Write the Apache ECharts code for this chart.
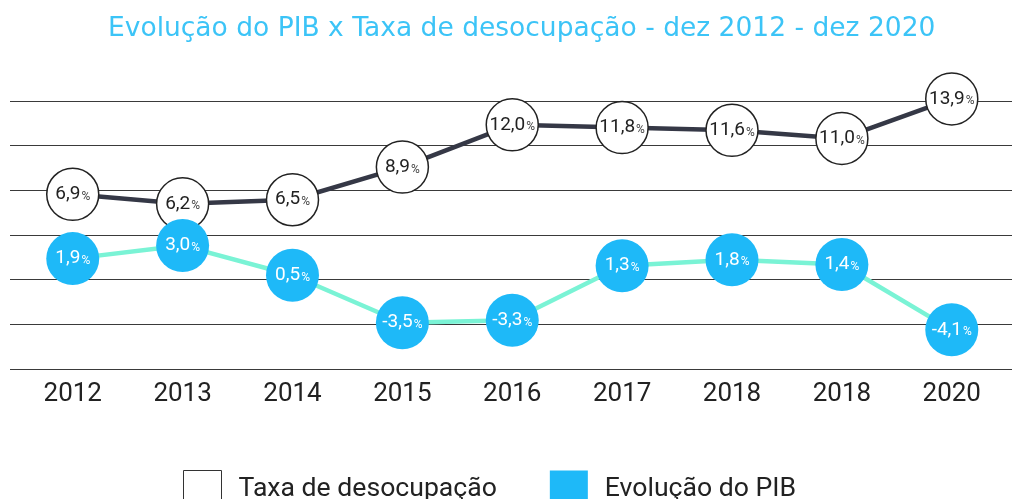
<!DOCTYPE html>
<html>
<head>
<meta charset="utf-8">
<script src="https://cdn.jsdelivr.net/npm/echarts@6/dist/echarts.min.js"></script>
<style>
  html, body { margin: 0; padding: 0; background: #fff; }
  #chart { width: 1012px; height: 499px; }
</style>
</head>
<body>
<div id="chart"></div>
<script>
let anos = ["2012", "2013", "2014", "2015", "2016", "2017", "2018", "2018", "2020"]
let taxaDesocupacao = [6.9, 6.2, 6.5, 8.9, 12.0, 11.8, 11.6, 11.0, 13.9]
let evolucaoPib = [1.9, 3.0, 0.5, -3.5, -3.3, 1.3, 1.8, 1.4, -4.1]

let fmt = (p) => "{n|" + p.value.toFixed(1).replace(".", ",") + "}{p|%}"

let option = {
  animation: false,
  title: {
    text: "Evolução do PIB x Taxa de desocupação - dez 2012 - dez 2020",
    left: 103, top: 11,
    textStyle: { fontFamily: "DejaVu Sans", fontSize: 26.5, fontWeight: "normal", color: "#3cc4f7" }
  },
  legend: {
    top: 465, left: 178,
    itemWidth: 38, itemHeight: 38, itemGap: 53,
    icon: "rect",
    textStyle: { fontFamily: "Roboto", fontSize: 26.6, color: "#222", padding: [0, 0, 0, 12] },
    data: [
      { name: "Taxa de desocupação", itemStyle: { color: "#fff", borderColor: "#333", borderWidth: 1 } },
      { name: "Evolução do PIB", itemStyle: { color: "#1eb9f8", borderWidth: 0 } }
    ]
  },
  grid: [
    { left: 10, right: 0, top: 101, bottom: 130 },
    { left: 17.8, right: 5.3, top: 101, bottom: 130 }
  ],
  xAxis: [
    { gridIndex: 0, type: "value", show: false, min: 0, max: 1 },
    {
      gridIndex: 1, type: "category", data: anos,
      axisLine: { show: false }, axisTick: { show: false }, splitLine: { show: false },
      axisLabel: { fontFamily: "Roboto", fontSize: 26, color: "#222", margin: 12 }
    }
  ],
  yAxis: [
    {
      gridIndex: 0, type: "value", min: 0, max: 6, interval: 1,
      axisLabel: { show: false }, axisLine: { show: false }, axisTick: { show: false },
      splitLine: { show: true, lineStyle: { color: "#3a3a3a", width: 1 } }
    },
    { gridIndex: 1, type: "value", min: -5.93, max: 13.75, show: false, splitLine: { show: false } },
    { gridIndex: 1, type: "value", min: -7.4, max: 15.18, show: false, splitLine: { show: false } }
  ],
  series: [
    {
      name: "Taxa de desocupação", type: "line",
      xAxisIndex: 1, yAxisIndex: 1,
      data: taxaDesocupacao,
      clip: false,
      symbol: "circle", symbolSize: 52,
      lineStyle: { color: "#353846", width: 4.5 },
      itemStyle: { color: "#fff", borderColor: "#222", borderWidth: 1.5 },
      label: {
        show: true, position: "inside", formatter: fmt,
        rich: {
          n: { fontFamily: "Roboto", fontSize: 19, color: "#222" },
          p: { fontFamily: "Roboto", fontSize: 12, color: "#444", padding: [5, 0, 0, 1] }
        }
      },
      emphasis: { disabled: true }
    },
    {
      name: "Evolução do PIB", type: "line",
      xAxisIndex: 1, yAxisIndex: 2,
      data: evolucaoPib,
      clip: false,
      symbol: "circle", symbolSize: 53,
      lineStyle: { color: "#7af3d5", width: 4.5 },
      itemStyle: { color: "#1eb9f8", borderWidth: 0 },
      label: {
        show: true, position: "inside", formatter: fmt,
        rich: {
          n: { fontFamily: "Roboto", fontSize: 19, color: "#fff" },
          p: { fontFamily: "Roboto", fontSize: 12, color: "#fff", padding: [5, 0, 0, 1] }
        }
      },
      emphasis: { disabled: true }
    }
  ]
}

let chart = echarts.init(document.getElementById("chart"))
chart.setOption(option)
window.addEventListener("resize", function () {
  chart.resize()
})
</script>
</body>
</html>
